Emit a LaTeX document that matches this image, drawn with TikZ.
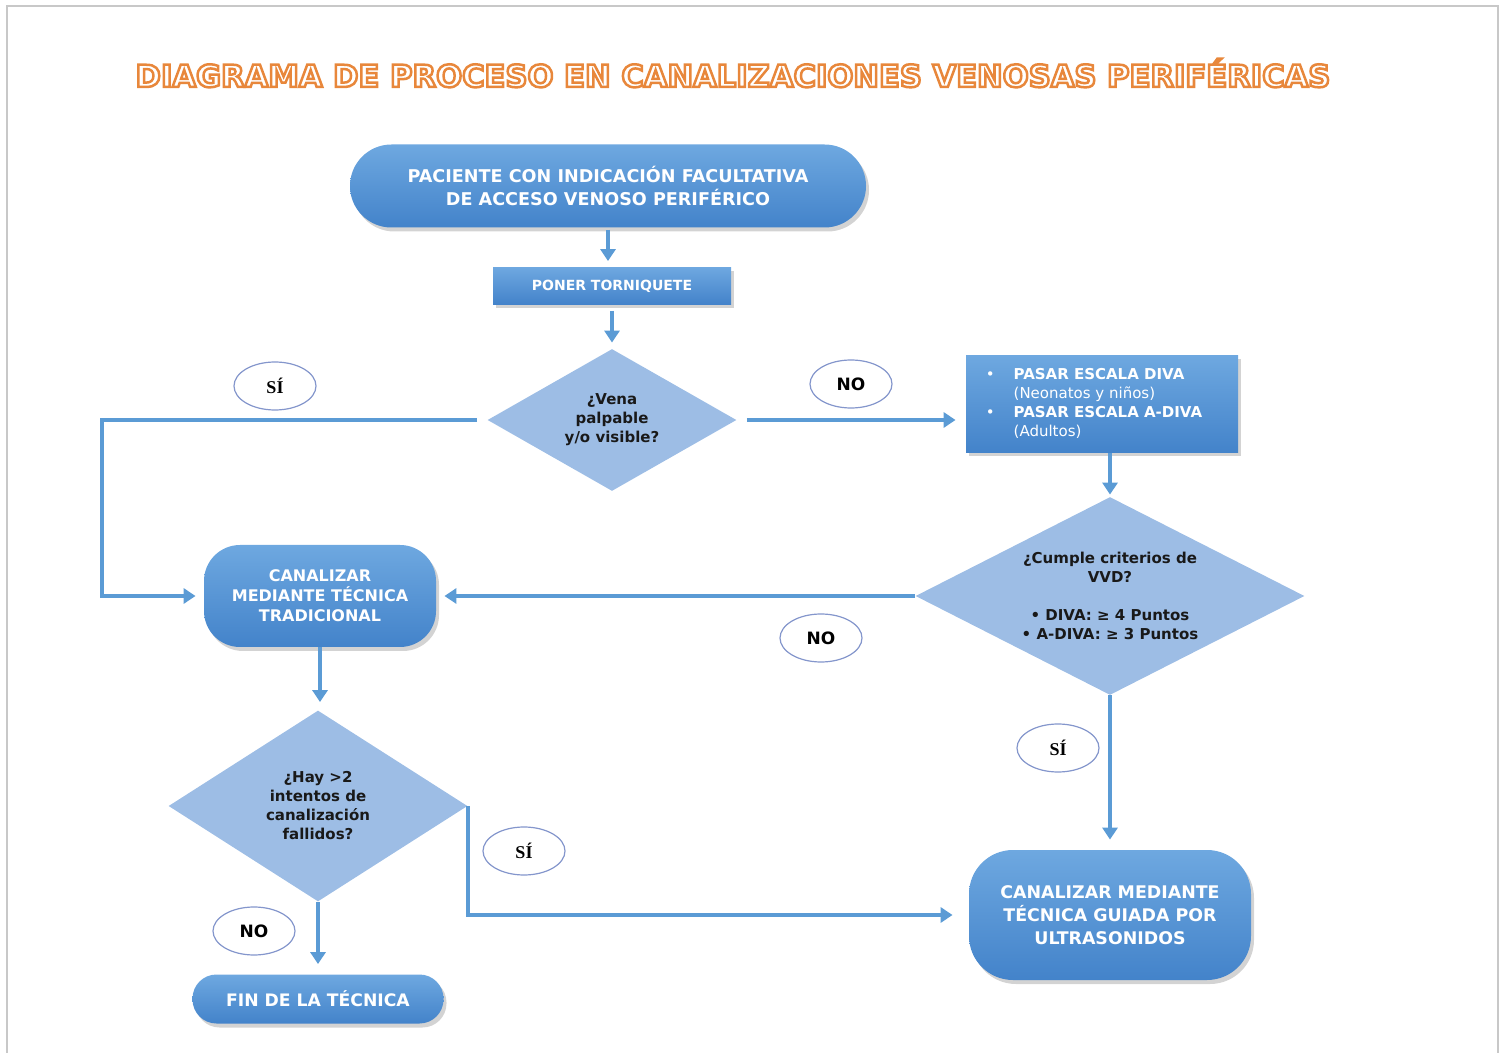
\documentclass[tikz,border=0pt]{standalone}
\usepackage{fontspec}
\setmainfont{DejaVu Sans}
\newfontfamily\serifb{Liberation Serif}
\usetikzlibrary{shapes.geometric,arrows.meta,shadows}
\definecolor{nodeTop}{HTML}{6EA8E0}
\definecolor{nodeBot}{HTML}{4383CA}
\definecolor{diaFill}{HTML}{9DBDE5}
\definecolor{arrC}{HTML}{5B9BD5}
\definecolor{lblC}{HTML}{8496CC}
\definecolor{frameC}{HTML}{C8C8C8}
\newcommand{\fs}[2]{\fontsize{#1}{#2}\selectfont}
\newcommand{\outlined}[1]{{\color{white}\special{pdf:literal direct 2 Tr 1.25 w 0.91 0.53 0.23 RG}#1\special{pdf:literal direct 0 Tr}}}
\tikzset{
  x=0.5pt, y=-0.5pt,
  bluenode/.style={text=white, font=\bfseries, align=center, inner sep=2pt,
    top color=nodeTop, bottom color=nodeBot, draw=none,
    drop shadow={opacity=0.35, shadow xshift=1.5pt, shadow yshift=-2pt}},
  dianode/.style={diamond, fill=diaFill, draw=none, inner sep=0pt, align=center,
    text=black!90, font=\bfseries\fs{7.5}{9.5}},
  lbl/.style={ellipse, draw=lblC, line width=0.6pt, fill=white, minimum width=41pt,
    minimum height=24pt, inner sep=0pt, text=black, font=\bfseries\fs{8.5}{10}},
  arr/.style={draw=arrC, line width=2pt, -{Triangle[length=6pt,width=7.5pt]}},
  ln/.style={draw=arrC, line width=2pt}
}
\begin{document}
\begin{tikzpicture}
\useasboundingbox (0,0) rectangle (1506,1053);
% page frame
\draw[frameC, line width=0.6pt] (7,1053) -- (7,6) -- (1498,6) -- (1498,1053);

% title
\node[font=\bfseries\fs{15.3}{18}] (title) at (733,73)
  {\outlined{DIAGRAMA DE PROCESO EN CANALIZACIONES VENOSAS PERIFÉRICAS}};

% nodes
\node[bluenode, minimum width=258pt, minimum height=41.5pt, rounded corners=20.7pt,
  font=\bfseries\fs{8.8}{11.5}] (start) at (608,186)
  {PACIENTE CON INDICACIÓN FACULTATIVA\\DE ACCESO VENOSO PERIFÉRICO};

\node[bluenode, minimum width=119pt, minimum height=18.5pt, font=\bfseries\fs{7}{8}]
  (torn) at (612,286) {PONER TORNIQUETE};

\node[dianode, minimum width=124.5pt, minimum height=71pt, shape aspect=1.75]
  (d1) at (612,420) {¿Vena\\palpable\\y/o visible?};

\node[bluenode, minimum width=136pt, minimum height=48.5pt, inner sep=0pt,
  font=\fs{7.5}{9.5}] (diva) at (1102,404)
  {\hspace{6pt}\begin{tabular}{@{}l@{\hspace{9.5pt}}l@{}}
   \textbullet & \textbf{PASAR ESCALA DIVA}\\
               & (Neonatos y niños)\\
   \textbullet & \textbf{PASAR ESCALA A-DIVA}\\
               & (Adultos)
   \end{tabular}\hspace{14pt}};

\node[dianode, minimum width=194.5pt, minimum height=99pt, shape aspect=1.96]
  (d2) at (1110,596)
  {¿Cumple criterios de\\VVD?\\[9.5pt]• DIVA: ≥ 4 Puntos\\• A-DIVA: ≥ 3 Puntos};

\node[bluenode, minimum width=116pt, minimum height=51pt, rounded corners=18pt,
  font=\bfseries\fs{8}{10}] (trad) at (320,596)
  {CANALIZAR\\MEDIANTE TÉCNICA\\TRADICIONAL};

\node[dianode, minimum width=149.5pt, minimum height=95.5pt, shape aspect=1.57]
  (d3) at (318,806) {¿Hay >2\\intentos de\\canalización\\fallidos?};

\node[bluenode, minimum width=141pt, minimum height=65pt, rounded corners=22pt,
  font=\bfseries\fs{8.7}{11.5}] (us) at (1110,915)
  {CANALIZAR MEDIANTE\\TÉCNICA GUIADA POR\\ULTRASONIDOS};

\node[bluenode, minimum width=125.5pt, minimum height=24.5pt, rounded corners=12pt,
  font=\bfseries\fs{8.6}{10}] (fin) at (318,999) {FIN DE LA TÉCNICA};

% labels
\node[lbl, font=\serifb\bfseries\fs{9}{10}] (l1) at (275,386) {SÍ};
\node[lbl] (l2) at (851,384) {NO};
\node[lbl] (l3) at (821,638) {NO};
\node[lbl, font=\serifb\bfseries\fs{9}{10}] (l4) at (1058,748) {SÍ};
\node[lbl, font=\serifb\bfseries\fs{9}{10}] (l5) at (524,851) {SÍ};
\node[lbl] (l6) at (254,931) {NO};

% connectors
\coordinate (k1) at (102,420);
\draw[arr, shorten <=1pt, shorten >=3pt] (start.south) -- (start.south |- torn.north);
\draw[arr, shorten <=3pt, shorten >=3pt] (torn.south) -- (d1.north);
\draw[arr, shorten <=5pt, shorten >=4pt] (d1.west) -- (k1) |- (trad.west);
\draw[arr, shorten <=5pt, shorten >=5pt] (d1.east) -- (d1.east -| diva.west);
\draw[arr, shorten >=1pt] (d2.north |- diva.south) -- (d2.north);
\draw[arr, shorten >=4pt] (d2.west) -- (trad.east);
\draw[arr, shorten >=4pt] (trad.south) -- (trad.south |- d3.north);
\draw[arr, shorten >=5pt] (d3.south) -- (fin.north);
\draw[arr, shorten >=8pt] (d3.east) |- (us.west);
\draw[arr, shorten >=5pt] (d2.south) -- (us.north);
\end{tikzpicture}
\end{document}
